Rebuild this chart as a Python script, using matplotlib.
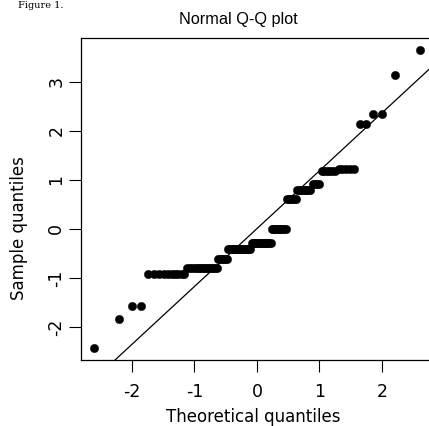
import numpy as np
import matplotlib
matplotlib.use("Agg")
import matplotlib.pyplot as plt
from statistics import NormalDist

# Sample values (distinct levels) and how many points sit at each
sample_levels = [-2.43, -1.83, -1.57, -0.92, -0.79, -0.605, -0.40, -0.29, 0.0,
                 0.607, 0.80, 0.92, 1.18, 1.215, 2.135, 2.35, 3.14, 3.65]
sample_counts = [1, 1, 2, 10, 15, 6, 16, 14, 10, 6, 8, 4, 6, 5, 2, 2, 1, 1]

x_ticks = [-2, -1, 0, 1, 2]
y_ticks = [-2, -1, 0, 1, 2, 3]
title = "Normal Q-Q plot"
x_label = "Theoretical quantiles"
y_label = "Sample quantiles"
caption = "Figure 1."

plt.rcParams['axes.unicode_minus'] = False

W, H = 429, 426
fig = plt.figure(figsize=(W / 100, H / 100), dpi=100)

# Q-Q construction (as R's qqnorm / qqline)
sample = np.sort(np.repeat(sample_levels, sample_counts))
n = len(sample)
nd = NormalDist()
theo = np.array([nd.inv_cdf((i - 0.5) / n) for i in range(1, n + 1)])
q1, q3 = np.percentile(sample, [25, 75])
t1, t3 = nd.inv_cdf(0.25), nd.inv_cdf(0.75)
slope = (q3 - q1) / (t3 - t1)
intercept = q1 - slope * t1

left_px, right_px, top_px, bottom_px = 81, 432.8, 38, 360
ax = fig.add_axes([left_px / W, 1 - bottom_px / H,
                   (right_px - left_px) / W, (bottom_px - top_px) / H])

ax.scatter(theo, sample, s=36, color='black', edgecolors='black', linewidths=0.3,
           zorder=3, clip_on=False)
ax.axline((0, intercept), slope=slope, color='black', lw=0.9, zorder=2)

xr = theo.max() - theo.min()
yr = sample.max() - sample.min()
ax.set_xlim(theo.min() - 0.04 * xr, theo.max() + 0.04 * xr)
ax.set_ylim(sample.min() - 0.04 * yr, sample.max() + 0.04 * yr)

ax.set_xticks(x_ticks)
ax.set_yticks(y_ticks)
ax.set_xticklabels([str(t) for t in x_ticks])
ax.set_yticklabels([str(t) for t in y_ticks], rotation=90, va='center')
ax.tick_params(axis='both', direction='out', length=8.8, width=0.8,
               labelsize=12.5, colors='black')
ax.tick_params(axis='x', pad=8.0)
ax.tick_params(axis='y', pad=2.5)
for lab in ax.get_xticklabels() + ax.get_yticklabels():
    lab.set_family('DejaVu Sans')
for sp in ax.spines.values():
    sp.set_linewidth(0.9)
    sp.set_color('black')

ax.set_xlabel(x_label, fontsize=12, family='DejaVu Sans')
ax.xaxis.set_label_coords(253.3 / W, 1 - 408.5 / H, transform=fig.transFigure)
ax.set_ylabel(y_label, fontsize=12, family='DejaVu Sans')
ax.yaxis.set_label_coords(28.5 / W, 1 - 228 / H, transform=fig.transFigure)

ax.set_title(title, fontsize=11.7, family='Liberation Sans', pad=10.1)
ax.title.set_position(((238.8 - left_px) / (right_px - left_px), 1.0))

fig.text(63.5 / W, 1 - 0.5 / H, caption, ha='right', va='top',
         fontsize=7, family='DejaVu Serif', color='black')

fig.savefig('out.png', dpi=100)
